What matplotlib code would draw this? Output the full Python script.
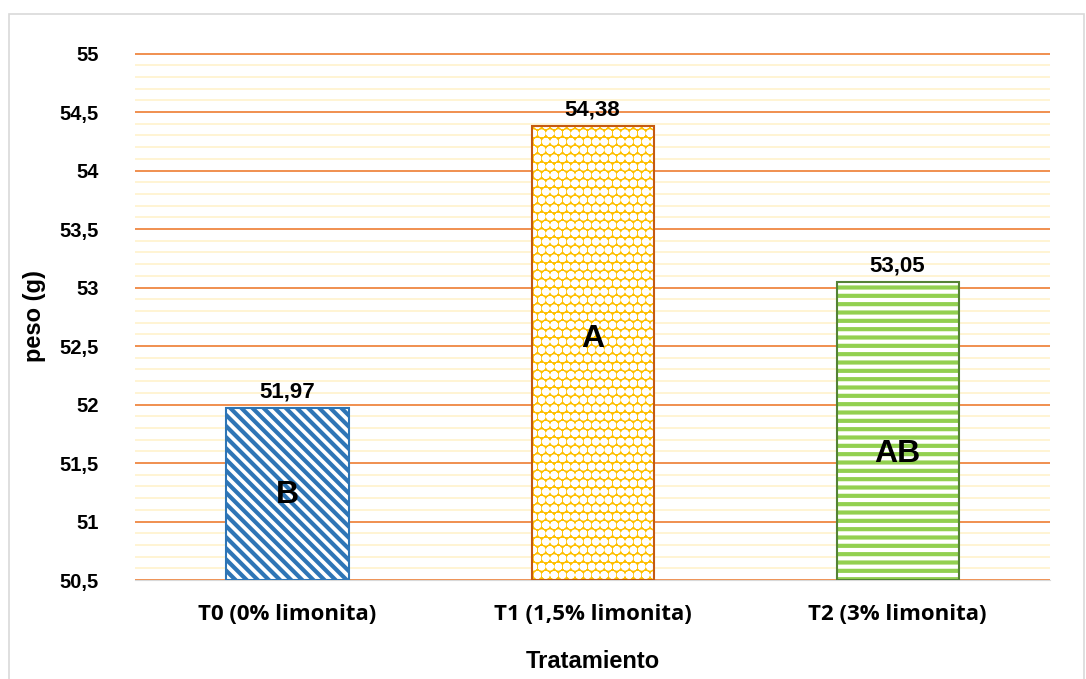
import numpy as np
import matplotlib.pyplot as plt
from matplotlib.patches import Rectangle
from matplotlib.ticker import MultipleLocator, FuncFormatter

categories = ["T0 (0% limonita)", "T1 (1,5% limonita)", "T2 (3% limonita)"]
pesos = [51.97, 54.38, 53.05]
letras = ["B", "A", "AB"]
letra_y = [51.23, 52.56, 51.58]

face = ["white", "#FFC000", "white"]
hatch_col = ["#2E75B6", "white", "#92D050"]
hatches = ["\\\\\\", "oo", "--"]
edges = ["#2E75B6", "#C55A11", "#548235"]

fig = plt.figure(figsize=(10.86, 6.79), dpi=100)
fig.patches.append(Rectangle((0.008, -0.01), 0.99, 0.99, transform=fig.transFigure,
                             fill=False, edgecolor="#D9D9D9", lw=1.2))
ax = fig.add_axes([0.1243, 0.1458, 0.8426, 0.7761])

x = np.arange(len(categories))
base = 50.5
heights = [p - base for p in pesos]
plt.rcParams['hatch.linewidth'] = 3.0
ax.bar(x, heights, bottom=base, width=0.4, color=face, edgecolor=hatch_col,
       hatch=hatches, linewidth=0, zorder=3)
ax.bar(x, heights, bottom=base, width=0.4, fill=False, edgecolor=edges,
       linewidth=1.5, zorder=4)

for xi, p in zip(x, pesos):
    ax.annotate(f"{p:.2f}".replace(".", ","), (xi, p), xytext=(0, 4),
                textcoords="offset points", ha="center", va="bottom",
                fontsize=16, fontweight="bold", family="Liberation Sans")
for xi, l, ly in zip(x, letras, letra_y):
    ax.text(xi, ly, l, ha="center", va="center", fontsize=23, fontweight="bold",
            family="Liberation Sans", zorder=5)

ax.set_xlim(-0.5, 2.5)
ax.set_ylim(50.5, 55.005)
ax.yaxis.set_major_locator(MultipleLocator(0.5))
ax.yaxis.set_minor_locator(MultipleLocator(0.1))
ax.yaxis.set_major_formatter(FuncFormatter(lambda v, _: f"{v:g}".replace(".", ",")))
ax.grid(axis="y", which="minor", color="#FFF2CC", lw=1.2, zorder=0)
ax.grid(axis="y", which="major", color="#ED7D31", lw=1.2, zorder=1)
ax.set_axisbelow(True)

for s in ["top", "right", "left"]:
    ax.spines[s].set_visible(False)
ax.spines["bottom"].set_color("#D9D9D9")
ax.spines["bottom"].set_zorder(2)
ax.tick_params(axis="both", which="both", length=0)
ax.tick_params(axis="y", pad=26)
ax.tick_params(axis="x", pad=17)

ax.set_xticks(x)
ax.set_xticklabels(categories, fontsize=16, fontweight="bold", family="Open Sans")
for t in ax.get_yticklabels():
    t.set_fontsize(14.5)
    t.set_fontweight("bold")
    t.set_family("Liberation Sans")

ax.set_ylabel("peso (g)", fontsize=17, fontweight="bold", family="Liberation Sans", labelpad=10)
ax.set_xlabel("Tratamiento", fontsize=17, fontweight="bold", family="Liberation Sans", labelpad=18)

plt.savefig("out.png", dpi=100)
